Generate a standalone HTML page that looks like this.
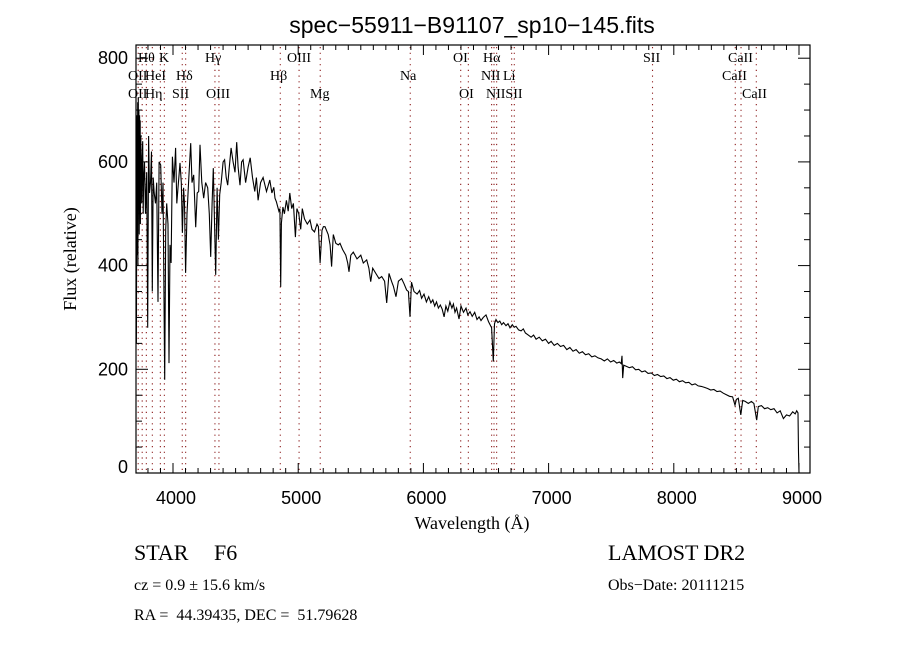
<!DOCTYPE html>
<html><head><meta charset="utf-8"><style>
html,body{margin:0;padding:0;background:#fff;}
svg{display:block;}
text{fill:#000;}
.serif{font-family:"Liberation Serif","DejaVu Serif",serif;}
.sans{font-family:"Liberation Sans","DejaVu Sans",sans-serif;}
</style></head><body>
<svg id="chart" width="900" height="650" viewBox="0 0 900 650" xmlns="http://www.w3.org/2000/svg">
<rect x="0" y="0" width="900" height="650" fill="#fff"/>
<text class="sans" x="472" y="33" font-size="23" text-anchor="middle">spec−55911−B91107_sp10−145.fits</text>
<g id="lines"></g>
<g id="labels" class="serif" font-size="14"></g>
<g id="ticks"></g>
<path id="spec" fill="none" stroke="#000" stroke-width="1.1"/>
<rect x="136" y="45" width="674" height="428" fill="none" stroke="#000" stroke-width="1.2"/>
<text class="serif" x="472" y="529" font-size="18" text-anchor="middle">Wavelength (Å)</text>
<text class="serif" x="76" y="259" font-size="18" text-anchor="middle" transform="rotate(-90 76 259)">Flux (relative)</text>
<text class="serif" x="134" y="560" font-size="22">STAR</text>
<text class="serif" x="214" y="560" font-size="22">F6</text>
<text class="serif" x="608" y="560" font-size="22">LAMOST DR2</text>
<text class="serif" x="134" y="590" font-size="16">cz = 0.9 ± 15.6 km/s</text>
<text class="serif" x="608" y="590" font-size="16">Obs−Date: 20111215</text>
<text class="serif" x="134" y="620" font-size="16" xml:space="preserve">RA =  44.39435, DEC =  51.79628</text>
</svg>
<script>
const wave = [3708,3712,3715,3718,3720,3723,3725,3728,3730,3733,3735,3738,3740,3743,3745,3750,3754,3758,3762,3765,3772,3780,3790,3798,3805,3812,3820,3828,3835,3842,3850,3860,3870,3880,3889,3902,3912,3920,3934,3942,3950,3960,3968,3976,3985,3995,4008,4021,4030,4040,4056,4066,4075,4085,4092,4101,4112,4125,4141,4152,4165,4181,4193,4205,4216,4230,4245,4260,4277,4290,4301,4312,4322,4341,4352,4363,4373,4385,4400,4412,4425,4437,4450,4464,4480,4495,4509,4520,4535,4548,4560,4580,4600,4617,4635,4653,4666,4680,4700,4720,4747,4773,4790,4805,4815,4826,4846,4854,4860,4866,4878,4890,4906,4920,4933,4948,4962,4978,4990,5005,5020,5033,5050,5073,5094,5110,5130,5150,5161,5175,5190,5201,5214,5240,5255,5267,5280,5300,5320,5334,5355,5380,5395,5406,5420,5440,5470,5500,5520,5547,5565,5579,5595,5620,5645,5667,5690,5707,5725,5745,5760,5781,5800,5826,5845,5866,5880,5893,5905,5925,
5950,5970,5986,6005,6024,6042,6060,6075,6090,6105,
6120,6135,6150,6165,6180,6195,6212,6228,6240,6252,
6265,6284,6300,6320,6340,6355,6372,6390,6410,6428,
6445,6460,6478,6500,6520,6545,6558,6568,6580,6595,
6610,6625,6640,6660,6676,6692,6710,6725,6740,6760,
6780,6798,6815,6838,6860,6880,6900,6925,6950,6975,
7000,7020,7045,7070,7095,7120,7145,7170,7195,7220,
7245,7270,7295,7320,7345,7370,7395,7420,7445,7470,
7495,7520,7545,7565,7580,7586,7592,7600,7620,7645,
7670,7695,7720,7745,7770,7795,7820,7845,7870,7895,
7920,7945,7970,7996,8020,8045,8070,8095,8120,8145,
8170,8195,8220,8245,8270,8295,8320,8345,8370,8395,
8420,8445,8470,8489,8500,8515,8535,8550,8570,8595,
8620,8640,8662,8675,8700,8725,8750,8775,8800,8825,
8850,8875,8900,8925,8950,8970,8982,8992,8996,9000];
const flux = [250,690,420,715,400,725,520,700,460,690,560,680,480,650,600,520,610,640,500,560,600,500,580,280,650,540,560,620,350,570,540,520,560,330,600,594,500,560,180,470,520,480,212,440,405,610,560,627,520,550,598,560,463,550,520,386,500,565,636,560,575,474,540,543,633,560,530,560,550,500,417,520,588,382,550,450,537,560,600,604,570,555,590,627,600,580,638,590,555,600,604,560,590,608,570,543,570,526,560,570,543,565,540,551,530,523,505,510,359,482,513,500,526,505,540,510,520,455,510,500,470,510,490,480,488,470,465,480,475,405,468,475,475,460,440,398,460,443,440,443,431,420,405,388,420,426,413,420,405,411,395,369,395,385,375,379,370,328,385,370,360,340,370,375,365,353,350,301,368,350,
345,352,337,345,330,340,328,334,322,330,
318,324,316,301,322,312,330,318,326,310,
318,297,322,310,318,305,311,302,310,296,
301,294,300,305,292,280,215,288,296,290,
293,286,290,284,288,280,286,281,283,276,
274,278,270,266,262,266,258,262,255,258,
250,254,246,250,244,246,238,242,235,238,
231,234,228,230,224,226,222,220,216,220,
214,217,212,214,211,226,183,208,206,203,
205,199,200,195,197,192,193,188,190,186,
187,182,184,179,181,176,178,174,175,170,
172,168,167,165,163,160,161,157,158,154,
151,148,147,131,142,144,112,140,138,134,
138,134,102,128,130,124,126,122,124,116,
120,105,112,110,118,114,120,116,40,0];
const lineWave = [3722,3754,3787,3835,3899,3931,4074,4101,4335,4367,4857,5007,5176,5895,6298,6359,6545,6564,6585,6705,6726,7830,8491,8537,8659];
const yTickValues = [0,200,400,600,800];
const xTickValues = [4000,5000,6000,7000,8000,9000];
const labelText = ["Hθ","K","Hγ","OIII","OI","Hα","SII","CaII","OII","HeI","Hδ","Hβ","Na","NII","Li","CaII","OII","Hη","SII","OIII","Mg","OI","NIISII","CaII"];
const labelX = [138,159,205,287,453,483,643,728,128,145,176,270,400,481,503,722,128,145,172,206,310,459,486,742];
const labelRow = [0,0,0,0,0,0,0,0,1,1,1,1,1,1,1,1,2,2,2,2,2,2,2,2];

const NS="http://www.w3.org/2000/svg";
function X(l){return 173+(l-4000)*0.1252;}
function Y(f){return 473-f*0.5185;}
function mk(tag,attrs,parent){const e=document.createElementNS(NS,tag);for(const k in attrs)e.setAttribute(k,attrs[k]);parent.appendChild(e);return e;}

let d="";
const n=Math.min(wave.length,flux.length);
for(let i=0;i<n;i++){d+=(i?"L":"M")+X(wave[i]).toFixed(1)+","+Math.min(473,Y(flux[i])).toFixed(1);}
document.getElementById("spec").setAttribute("d",d);

const lg=document.getElementById("lines");
lineWave.forEach(function(w){
  const ln=mk("line",{x1:X(w),x2:X(w),y1:47,y2:473,stroke:"#8b1a1a","stroke-width":1.1,"stroke-dasharray":"1.2,4.5"},lg);
  
  
});
const lb=document.getElementById("labels");
labelText.forEach(function(t,i){
  const tx=mk("text",{x:labelX[i],y:62+labelRow[i]*18},lb);
  tx.textContent=t;
  
  
});

const tg=document.getElementById("ticks");
for(let w=3800;w<=9000;w+=100){
  const major=(w%1000===0);const L=major?10:5;
  const a=mk("line",{x1:X(w),x2:X(w),y1:473,y2:473-L,stroke:"#000","stroke-width":1},tg);
  
  
  const b=mk("line",{x1:X(w),x2:X(w),y1:45,y2:45+L,stroke:"#000","stroke-width":1},tg);
  
  
}
for(let f=0;f<=800;f+=50){
  const major=(f%200===0);const L=major?12:6;
  const a=mk("line",{x1:136,x2:136+L,y1:Y(f),y2:Y(f),stroke:"#000","stroke-width":1},tg);
  
  
  const b=mk("line",{x1:810,x2:810-L,y1:Y(f),y2:Y(f),stroke:"#000","stroke-width":1},tg);
  
  
}
xTickValues.forEach(function(v){
  const t=mk("text",{x:X(v)+3,y:504,"font-size":18,"text-anchor":"middle","class":"sans"},tg);
  t.textContent=String(v);
  
  
});
yTickValues.forEach(function(v){
  const yy=v===0?Math.min(Y(v),467):Y(v);
  const t=mk("text",{x:128,y:yy+6,"font-size":18,"text-anchor":"end","class":"sans"},tg);
  t.textContent=String(v);
  
  
});
</script>
</body></html>
